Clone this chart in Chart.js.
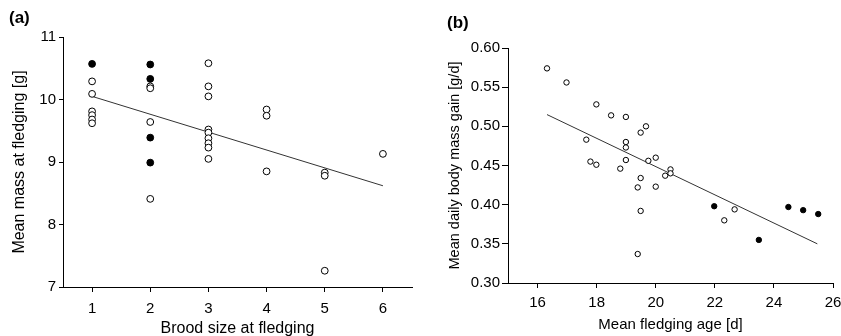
<!DOCTYPE html>
<html>
<head>
<meta charset="utf-8">
<script src="https://cdn.jsdelivr.net/npm/chart.js@4.4.1/dist/chart.umd.min.js"></script>
<style>
  html, body { margin: 0; padding: 0; background: #fff; overflow: hidden; }
  #wrap { position: relative; width: 841px; height: 336px; overflow: hidden; }
  canvas { position: absolute; top: 0; }
  .panel { position: absolute; font-family: 'Liberation Sans', Arial, sans-serif; font-weight: bold; font-size: 17px; color: #000; }
</style>
</head>
<body>
<div id="wrap">
  <canvas id="chartA" width="420" height="336" style="left:0"></canvas>
  <canvas id="chartB" width="430" height="336" style="left:420px"></canvas>
  <div class="panel" style="left:9px;top:8px">(a)</div>
  <div class="panel" style="left:447px;top:13px">(b)</div>
</div>
<script>
// (a) 巣立ち時の雛数 vs 平均体重
const broodOpenX = [1, 1, 1, 1, 1, 1, 2, 2, 2, 2, 3, 3, 3, 3, 3, 3, 3, 3, 3, 4, 4, 4, 5, 5, 5, 6];
const massOpenY  = [10.29, 10.09, 9.81, 9.75, 9.68, 9.62, 10.21, 10.18, 9.64, 8.41,
                    10.58, 10.21, 10.05, 9.52, 9.47, 9.38, 9.30, 9.23, 9.05,
                    9.84, 9.74, 8.85, 8.83, 8.78, 7.26, 9.13];
const broodFilledX = [1, 2, 2, 2, 2];
const massFilledY  = [10.57, 10.56, 10.33, 9.39, 8.99];
const massFitX = [1, 6];
const massFitY = [10.05, 8.62];
const xTicksA = [1, 2, 3, 4, 5, 6];
const yTicksA = [7, 8, 9, 10, 11];

// (b) 平均巣立ち日齢 vs 日増体量
const ageOpenX  = [16.32, 16.98, 17.99, 18.49, 18.99, 19.67, 19.49, 17.65, 18.99, 18.99,
                   17.79, 17.99, 18.99, 19.75, 20.00, 18.80, 20.50, 20.50, 20.32, 19.49,
                   19.39, 20.00, 19.49, 19.39, 22.32, 22.67];
const gainOpenY = [0.574, 0.556, 0.528, 0.514, 0.512, 0.500, 0.492, 0.483, 0.480, 0.473,
                   0.455, 0.451, 0.457, 0.456, 0.460, 0.446, 0.445, 0.440, 0.437, 0.434,
                   0.422, 0.423, 0.392, 0.337, 0.380, 0.394];
const ageFilledX  = [21.98, 23.49, 24.49, 24.99, 25.50];
const gainFilledY = [0.398, 0.355, 0.397, 0.393, 0.388];
const gainFitX = [16.32, 25.47];
const gainFitY = [0.515, 0.350];
const xTicksB = [16, 18, 20, 22, 24, 26];
const yTicksB = [0.30, 0.35, 0.40, 0.45, 0.50, 0.55, 0.60];

const FONT = "'Liberation Sans', Arial, sans-serif";
const toPoints = (xs, ys) => xs.map((x, i) => ({ x: x, y: ys[i] }));

function makeAxis(opts) {
    return {
        type: 'linear',
        position: opts.position,
        min: opts.min,
        max: opts.max,
        afterBuildTicks: scale => { scale.ticks = opts.ticks.map(v => ({ value: v })); },
        afterFit: scale => {
            if (opts.position === 'left') scale.width = opts.size;
            else scale.height = opts.size;
        },
        grid: { display: true, drawOnChartArea: false, drawTicks: true, tickLength: opts.tickLength, color: '#000', lineWidth: 1 },
        border: { display: true, color: '#000', width: 1 },
        ticks: {
            color: '#000',
            padding: opts.tickPad,
            font: { family: FONT, size: 15 },
            callback: opts.format
        },
        title: {
            display: true,
            text: opts.title,
            color: '#000',
            font: { family: FONT, size: opts.titleSize },
            padding: opts.titlePad
        }
    };
}

function renderScatter(canvasId, cfg) {
    const ctx = document.getElementById(canvasId).getContext('2d');
    new Chart(ctx, {
        type: 'scatter',
        data: {
            datasets: [
                {
                    label: 'open',
                    data: toPoints(cfg.openX, cfg.openY),
                    pointStyle: 'circle',
                    pointRadius: cfg.radius,
                    backgroundColor: '#fff',
                    borderColor: '#000',
                    borderWidth: 1,
                    order: 1
                },
                {
                    label: 'filled',
                    data: toPoints(cfg.filledX, cfg.filledY),
                    pointStyle: 'circle',
                    pointRadius: cfg.radius,
                    backgroundColor: '#000',
                    borderColor: '#000',
                    borderWidth: 1,
                    order: 0
                },
                {
                    label: 'fit',
                    type: 'line',
                    data: toPoints(cfg.fitX, cfg.fitY),
                    showLine: true,
                    pointRadius: 0,
                    borderColor: '#333',
                    borderWidth: 1,
                    fill: false,
                    order: 2
                }
            ]
        },
        options: {
            responsive: false,
            animation: false,
            devicePixelRatio: 1,
            layout: { padding: cfg.padding },
            plugins: { legend: { display: false }, tooltip: { enabled: false } },
            scales: { x: cfg.x, y: cfg.y }
        }
    });
}

renderScatter('chartA', {
    openX: broodOpenX, openY: massOpenY,
    filledX: broodFilledX, filledY: massFilledY,
    fitX: massFitX, fitY: massFitY,
    radius: 3.4,
    padding: { left: 0, right: 8, top: 37, bottom: 0 },
    x: makeAxis({ position: 'bottom', min: 0.5, max: 6.5, ticks: xTicksA, size: 49, tickLength: 5, tickPad: 8,
                  title: 'Brood size at fledging', titleSize: 16, titlePad: { top: 0, bottom: -2 } }),
    y: makeAxis({ position: 'left', min: 7, max: 11, ticks: yTicksA, size: 63, tickLength: 4, tickPad: 3,
                  title: 'Mean mass at fledging [g]', titleSize: 16, titlePad: { top: 10, bottom: 0 } })
});

renderScatter('chartB', {
    openX: ageOpenX, openY: gainOpenY,
    filledX: ageFilledX, filledY: gainFilledY,
    fitX: gainFitX, fitY: gainFitY,
    radius: 2.7,
    padding: { left: 0, right: 17, top: 48, bottom: 0 },
    x: makeAxis({ position: 'bottom', min: 15, max: 26, ticks: xTicksB, size: 53, tickLength: 5, tickPad: 6,
                  title: 'Mean fledging age [d]', titleSize: 15, titlePad: { top: 0, bottom: 2 } }),
    y: makeAxis({ position: 'left', min: 0.30, max: 0.60, ticks: yTicksB, size: 88, tickLength: 6, tickPad: 2,
                  title: 'Mean daily body mass gain [g/d]', titleSize: 14.5, titlePad: { top: 26, bottom: 0 },
                  format: v => v.toFixed(2) })
});
</script>
</body>
</html>
